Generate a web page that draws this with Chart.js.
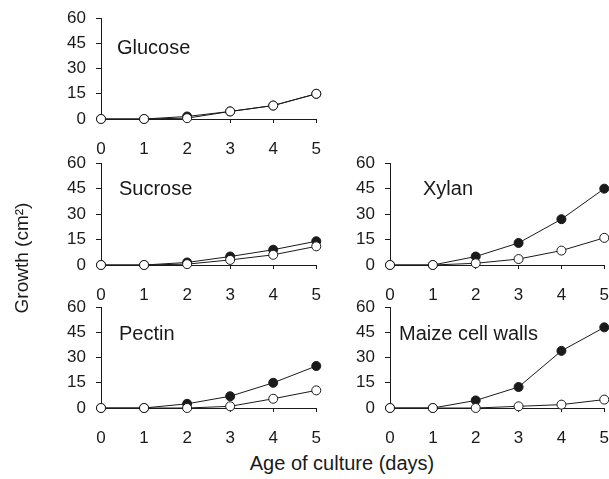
<!doctype html>
<html>
<head>
<meta charset="utf-8">
<title>Growth on carbon sources</title>
<script src="https://cdn.jsdelivr.net/npm/chart.js@4.4.1/dist/chart.umd.min.js"></script>
<style>
	html, body {
		margin: 0;
		padding: 0;
		width: 609px;
		height: 479px;
		overflow: hidden;
		background: #fff;
		font-family: "Liberation Sans", Arial, sans-serif;
		color: #1a1a1a;
	}
	.panel {
		position: absolute;
	}
	#ytitle {
		position: absolute;
		left: 22px;
		top: 258px;
		transform: translate(-50%, -50%) rotate(-90deg);
		font-size: 19px;
		white-space: nowrap;
	}
	#xtitle {
		position: absolute;
		left: 342px;
		top: 463px;
		transform: translate(-50%, -50%);
		font-size: 20px;
		white-space: nowrap;
	}
</style>
</head>
<body>
<div class="panel" id="p1" style="left:51px;top:-2px;width:286px;height:161px"><canvas id="c1"></canvas></div>
<div class="panel" id="p2" style="left:51px;top:143px;width:286px;height:162px"><canvas id="c2"></canvas></div>
<div class="panel" id="p3" style="left:340px;top:143px;width:285px;height:162px"><canvas id="c3"></canvas></div>
<div class="panel" id="p4" style="left:51px;top:287px;width:286px;height:161px"><canvas id="c4"></canvas></div>
<div class="panel" id="p5" style="left:340px;top:287px;width:285px;height:161px"><canvas id="c5"></canvas></div>
<div id="ytitle">Growth (cm&sup2;)</div>
<div id="xtitle">Age of culture (days)</div>
<script>

	var days = [0, 1, 2, 3, 4, 5];
	var yTicks = [0, 15, 30, 45, 60];

	var filledGlucose = [0, 0, 1.5, 4.5, 8, 15];
	var openGlucose   = [0, 0, 0.5, 4.5, 8, 15];

	var filledSucrose = [0, 0, 1.5, 5, 9, 14];
	var openSucrose   = [0, 0, 0.5, 3, 6, 11];

	var filledXylan = [0, 0, 5, 13, 27, 45];
	var openXylan   = [0, 0, 1, 3.5, 8.5, 16];

	var filledPectin = [0, 0, 2.5, 7, 15, 25];
	var openPectin   = [0, 0, 0, 1, 5.5, 10.5];

	var filledMaize = [0, 0, 4.5, 12.5, 34, 48];
	var openMaize   = [0, 0, 0, 1, 2, 5];

	var ink = '#1a1a1a';

	// draws the substrate name inside the plot area
	var panelLabel = {
		id: 'panelLabel',
		afterDraw: function(chart, args, opts) {
			var ctx = chart.ctx;
			var area = chart.chartArea;
			ctx.save();
			ctx.font = '20px "Liberation Sans", Arial, sans-serif';
			ctx.fillStyle = ink;
			ctx.textBaseline = 'middle';
			ctx.textAlign = 'left';
			ctx.fillText(opts.text, area.left + opts.dx, area.top + opts.dy);
			ctx.restore();
		}
	};

	function toPoints(values) {
		return days.map(function(d, i) { return {x: d, y: values[i]}; });
	}

	function makePanel(id, name, filled, open, dx, dy) {
		var ctx = document.getElementById(id).getContext('2d');
		return new Chart(ctx, {
			type: 'line',
			data: {
				datasets: [{
					label: 'open',
					data: toPoints(open),
					borderColor: ink,
					borderWidth: 1,
					pointRadius: 4.5,
					pointBackgroundColor: '#fff',
					pointBorderColor: ink,
					pointBorderWidth: 1,
					clip: false,
					order: 0
				}, {
					label: 'filled',
					data: toPoints(filled),
					borderColor: ink,
					borderWidth: 1,
					pointRadius: 4.5,
					pointBackgroundColor: ink,
					pointBorderColor: ink,
					pointBorderWidth: 1,
					clip: false,
					order: 1
				}]
			},
			options: {
				responsive: true,
				maintainAspectRatio: false,
				animation: false,
				layout: { padding: { top: 12, right: 12, left: 0, bottom: 0 } },
				plugins: {
					legend: { display: false },
					tooltip: { enabled: false },
					panelLabel: { text: name, dx: dx, dy: dy }
				},
				scales: {
					x: {
						type: 'linear',
						min: 0,
						max: 5,
						afterFit: function(scale) { scale.height = 40; },
						afterBuildTicks: function(scale) {
							scale.ticks = days.map(function(v) { return {value: v}; });
						},
						border: { display: true, color: ink, width: 1 },
						grid: { drawOnChartArea: false, drawTicks: true, tickLength: 4, color: ink },
						ticks: {
							padding: 16,
							color: ink,
							maxRotation: 0,
							font: { size: 17, family: '"Liberation Sans", Arial, sans-serif' }
						}
					},
					y: {
						min: 0,
						max: 60,
						afterFit: function(scale) { scale.width = 50; },
						afterBuildTicks: function(scale) {
							scale.ticks = yTicks.map(function(v) { return {value: v}; });
						},
						border: { display: true, color: ink, width: 1 },
						grid: { drawOnChartArea: false, drawTicks: true, tickLength: 5, color: ink },
						ticks: {
							padding: 10,
							color: ink,
							font: { size: 17, family: '"Liberation Sans", Arial, sans-serif' }
						}
					}
				}
			},
			plugins: [panelLabel]
		});
	}

	makePanel('c1', 'Glucose', filledGlucose, openGlucose, 16, 30);
	makePanel('c2', 'Sucrose', filledSucrose, openSucrose, 18, 26);
	makePanel('c3', 'Xylan', filledXylan, openXylan, 33, 26);
	makePanel('c4', 'Pectin', filledPectin, openPectin, 18, 27);
	makePanel('c5', 'Maize cell walls', filledMaize, openMaize, 9, 27);

</script>
</body>
</html>
